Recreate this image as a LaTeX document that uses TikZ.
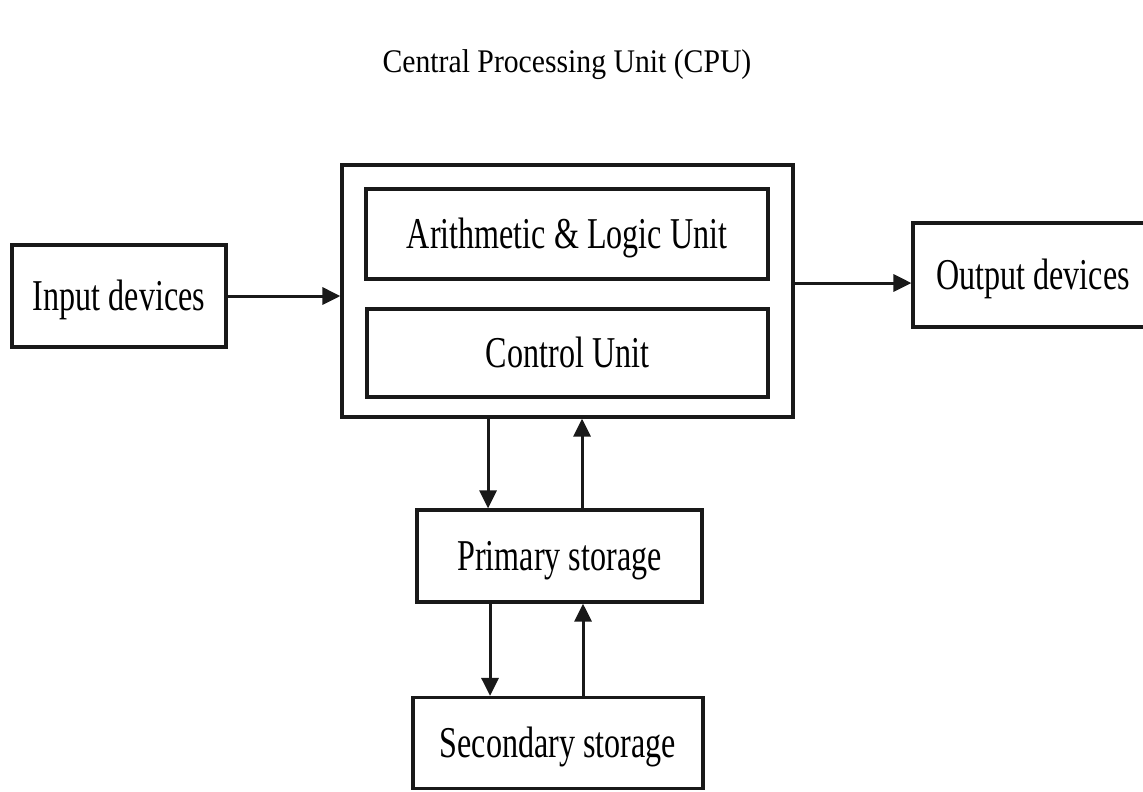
\documentclass[tikz,border=0pt]{standalone}
\usepackage{fontspec}
\setmainfont{Liberation Serif}
\newfontfamily\lblfont{Liberation Serif}[FakeStretch=0.73]
\newfontfamily\ttlfont{Liberation Serif}[FakeStretch=0.90]
\usetikzlibrary{arrows.meta}
\begin{document}
\begin{tikzpicture}[x=1pt,y=-1pt,
  lbl/.style={inner sep=0pt, text height=29pt, text depth=0pt,
    font={\lblfont\fontsize{44}{50}\selectfont}},
  box/.style={lbl, draw=black!90, line width=3.2pt},
  arr/.style={draw=black!90, line width=3pt, -{Triangle[length=18pt,width=17pt]}},
  title/.style={inner sep=0pt, text height=22pt, text depth=0pt,
    font={\ttlfont\fontsize{33}{38}\selectfont}}]
\useasboundingbox[fill=white] (0,0) rectangle (1143,792);
\node[title] (ttl) at (567,62) {Central Processing Unit (CPU)};
\node[box, minimum width=451pt, minimum height=252pt] (cpu) at (567.5,291) {};
\node[box, minimum width=402pt, minimum height=90pt] (alu) at (567,234) {Arithmetic \& Logic Unit};
\node[box, minimum width=401pt, minimum height=88pt] (cu) at (567.5,353) {Control Unit};
\node[box, minimum width=214pt, minimum height=102pt] (in) at (119,296) {Input devices};
\node[box, minimum width=280pt, minimum height=104pt] (out) at (1053,275) {};
\node[lbl] (outlbl) at (1033,275) {Output devices};
\node[box, minimum width=285pt, minimum height=92pt] (prim) at (559.5,556) {Primary storage};
\node[box, minimum width=290pt, minimum height=91pt] (sec) at (558,743) {Secondary storage};
\coordinate (d1) at (488,0);
\coordinate (u1) at (582,0);
\coordinate (d2) at (490,0);
\coordinate (u2) at (583,0);
\coordinate (yo) at (0,283);
\draw[arr] (in.east) -- (in.east -| cpu.west);
\draw[arr] (cpu.east |- yo) -- (out.west |- yo);
\draw[arr] (cpu.south -| d1) -- (prim.north -| d1);
\draw[arr] (prim.north -| u1) -- (cpu.south -| u1);
\draw[arr] (prim.south -| d2) -- (sec.north -| d2);
\draw[arr] (sec.north -| u2) -- (prim.south -| u2);
\end{tikzpicture}
\end{document}
